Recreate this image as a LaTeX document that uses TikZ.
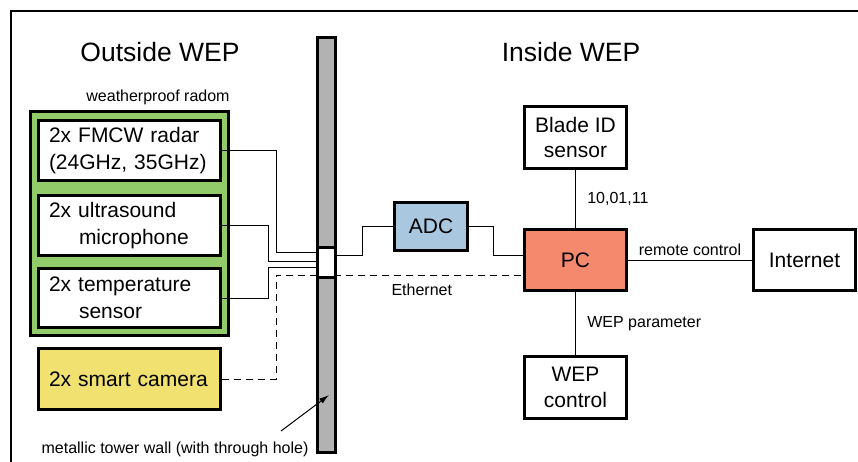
\documentclass[tikz,border=0pt]{standalone}
\usepackage{fontspec}
\setmainfont{Liberation Sans}
\usetikzlibrary{arrows.meta}

\definecolor{radomgreen}{RGB}{145,203,106}
\definecolor{camyellow}{RGB}{240,225,112}
\definecolor{adcblue}{RGB}{169,200,224}
\definecolor{pcsalmon}{RGB}{245,137,109}
\definecolor{wallgray}{RGB}{178,178,178}

\tikzset{
  unit/.style={draw, line width=2.8pt, minimum width=102pt, minimum height=62pt,
    align=center, font=\fontsize{21}{25.5}\selectfont},
  sensorbox/.style={draw, fill=white, line width=2.8pt, text width=161pt,
    inner xsep=10.5pt, minimum height=60pt, align=left,
    font=\fontsize{21}{26.5}\selectfont},
  wire/.style={line width=1pt},
  lbl/.style={font=\fontsize{16}{18}\selectfont},
  title/.style={font=\fontsize{26.5}{30}\selectfont},
}

\begin{document}
\begin{tikzpicture}[x=1pt, y=-1pt]
\useasboundingbox (0,0) rectangle (858,462);
\draw [line width=1.4pt] (11,462) -- (11,11) -- (858,11);

% outside the tower
\node[title] (outside) at (160,52) {Outside WEP};
\node[lbl] (radomlbl) at (158,97) {weatherproof radom};
\node[draw, fill=radomgreen, line width=2.5pt, minimum width=198pt, minimum height=224pt] (radom) at (129.5,223.5) {};
\node[sensorbox] (radar) at (129.5,150.5) {2x FMCW radar\\(24GHz, 35GHz)};
\node[sensorbox] (ultra) at (129.5,225.5) {2x ultrasound\\\hspace*{30pt}microphone};
\node[sensorbox, minimum height=59pt] (temp) at (129.5,298) {2x temperature\\\hspace*{30pt}sensor};
\node[sensorbox, fill=camyellow, minimum height=61pt] (camera) at (129.5,379) {2x smart camera};

% inside the tower
\node[title] (inside) at (571,52) {Inside WEP};
\node[unit, fill=adcblue, minimum width=73pt, minimum height=48pt] (adc) at (431,226.5) {ADC};
\node[unit, fill=pcsalmon, minimum height=61pt] (pc) at (575.5,260) {PC};
\node[unit] (blade) at (575.5,137.5) {Blade ID\\sensor};
\node[unit] (wepctl) at (575.5,387.5) {WEP\\control};
\node[unit, minimum height=61pt] (internet) at (804.5,260) {Internet};

% cables
\draw[wire] (radar.east) -| (276,252) -- (276,252 -| 316,0);
\draw[wire] (ultra.east) -| (268,261) -- (316,261);
\draw[wire] (temp.east) -| (268,267) -- (316,267);
\draw[wire, dash pattern=on 7pt off 5pt] (camera.east) -| (276,275)
  -- node[lbl, below=5pt, pos=0.59] (ethlbl) {Ethernet} (pc.west |- 0,275);
\draw[wire] (adc.east) -- ++(25,0) |- (pc.west |- 0,255);
\draw[wire] (blade) -- node[lbl, right=8pt] (bitlbl) {10,01,11} (pc);
\draw[wire] (pc) -- node[lbl, right=8pt] (parlbl) {WEP parameter} (wepctl);
\draw[wire] (pc) -- node[lbl, above=1pt] (remlbl) {remote control} (internet);

% tower wall with the cable hole
\node[draw, fill=wallgray, line width=2.8pt, minimum width=18pt, minimum height=415pt, inner sep=0pt] (wall) at (326.5,245) {};
\node[draw, fill=white, line width=2.8pt, minimum width=18pt, minimum height=30pt, inner sep=0pt] (hole) at (326.5,262.5) {};
\draw[wire] (hole.east |- 0,255) -| ([xshift=-31pt]adc.west) -- (adc.west);

\node[lbl] (walllbl) at (175,449) {metallic tower wall (with through hole)};
\coordinate (wallfoot) at (281,431);
\coordinate (wallpt) at (329,395);
\draw[wire, -{Latex[length=10pt,width=6pt]}] (wallfoot) -- (wallpt);
\end{tikzpicture}
\end{document}
